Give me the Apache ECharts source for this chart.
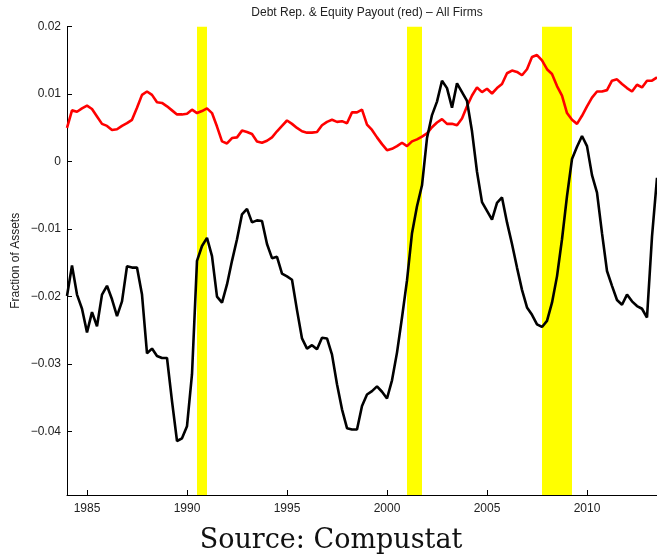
<!DOCTYPE html>
<html>
<head>
<meta charset="utf-8">
<script src="https://cdn.jsdelivr.net/npm/echarts@6/dist/echarts.min.js"></script>
<style>
  html, body { margin: 0; padding: 0; background: #fff; }
  #chart { width: 657px; height: 557px; }
</style>
</head>
<body>
<div id="chart"></div>
<script>
// quarterly data, 1984Q1 .. 2013Q3, fraction of assets
const firstQuarter = 1984.0
const quarters = n => Array.from({ length: n }, (_, i) => firstQuarter + i * 0.25)

// equity payout (red)
const redValues = [
  0.0050, 0.0076, 0.0074, 0.0079, 0.0083, 0.0078, 0.0067, 0.0056,
  0.0053, 0.0047, 0.0048, 0.0053, 0.0057, 0.0062, 0.0080, 0.0099,
  0.0104, 0.0099, 0.0088, 0.0087, 0.0082, 0.0076, 0.0070, 0.0070,
  0.0071, 0.0077, 0.0072, 0.0075, 0.0079, 0.0072, 0.0052, 0.0030,
  0.0027, 0.0035, 0.0036, 0.0046, 0.0044, 0.0041, 0.0030, 0.0028,
  0.0031, 0.0036, 0.0045, 0.0053, 0.0061, 0.0056, 0.0050, 0.0045,
  0.0043, 0.0043, 0.0044, 0.0054, 0.0059, 0.0062, 0.0059, 0.0060,
  0.0057, 0.0073, 0.0073, 0.0077, 0.0055, 0.0047, 0.0036, 0.0026,
  0.0017, 0.0019, 0.0023, 0.0028, 0.0023, 0.0030, 0.0033, 0.0037,
  0.0042, 0.0051, 0.0058, 0.0063, 0.0056, 0.0056, 0.0054, 0.0064,
  0.0082, 0.0098, 0.0110, 0.0103, 0.0108, 0.0101, 0.0109, 0.0115,
  0.0131, 0.0135, 0.0133, 0.0128, 0.0137, 0.0155, 0.0158, 0.0150,
  0.0137, 0.0130, 0.0112, 0.0098, 0.0072, 0.0062, 0.0056, 0.0068,
  0.0082, 0.0095, 0.0104, 0.0104, 0.0106, 0.0120, 0.0122, 0.0115,
  0.0109, 0.0104, 0.0114, 0.0110, 0.0120, 0.0120, 0.0125
]

// debt repurchase (black)
const blackValues = [
  -0.0199, -0.0154, -0.0197, -0.0218, -0.0253, -0.0223, -0.0244, -0.0197,
  -0.0184, -0.0204, -0.0229, -0.0207, -0.0155, -0.0157, -0.0157, -0.0197,
  -0.0284, -0.0277, -0.0288, -0.0291, -0.0291, -0.0355, -0.0414, -0.0410,
  -0.0392, -0.0315, -0.0147, -0.0125, -0.0113, -0.0140, -0.0200, -0.0209,
  -0.0182, -0.0147, -0.0115, -0.0078, -0.0070, -0.0090, -0.0087, -0.0088,
  -0.0122, -0.0143, -0.0141, -0.0166, -0.0170, -0.0175, -0.0220, -0.0262,
  -0.0277, -0.0272, -0.0278, -0.0261, -0.0262, -0.0286, -0.0330, -0.0367,
  -0.0395, -0.0397, -0.0397, -0.0362, -0.0345, -0.0340, -0.0333, -0.0341,
  -0.0351, -0.0324, -0.0283, -0.0231, -0.0176, -0.0106, -0.0066, -0.0035,
  0.0035, 0.0069, 0.0089, 0.0120, 0.0109, 0.0080, 0.0116, 0.0103,
  0.0090, 0.0045, -0.0015, -0.0060, -0.0073, -0.0086, -0.0061, -0.0053,
  -0.0090, -0.0122, -0.0157, -0.0190, -0.0216, -0.0227, -0.0241, -0.0245,
  -0.0236, -0.0209, -0.0170, -0.0115, -0.0051, 0.0004, 0.0022, 0.0038,
  0.0023, -0.0020, -0.0046, -0.0106, -0.0162, -0.0184, -0.0205, -0.0212,
  -0.0197, -0.0207, -0.0214, -0.0218, -0.0231, -0.0111, -0.0024
]

// NBER recessions (quarter bounds)
const recessionStart = [1990.5, 2001.0, 2007.75]
const recessionEnd = [1991.0, 2001.75, 2009.25]

const xTicks = [1985, 1990, 1995, 2000, 2005, 2010]
const yTicks = [-0.04, -0.03, -0.02, -0.01, 0, 0.01, 0.02]

const toPairs = ys => {
  const xs = quarters(ys.length)
  return ys.map((y, i) => [xs[i], y])
}

const axisFont = { color: '#222', fontSize: 12, fontFamily: "'Liberation Sans', Arial, sans-serif" }

const chart = echarts.init(document.getElementById('chart'), null, { renderer: 'canvas' })

chart.setOption({
  animation: false,
  backgroundColor: '#fff',
  title: {
    text: 'Debt Rep. & Equity Payout (red) \u2013 All Firms',
    left: 362, top: 2, textAlign: 'center',
    textStyle: { fontSize: 12, fontWeight: 'normal', color: '#222', fontFamily: "'Liberation Sans', Arial, sans-serif" }
  },
  grid: { left: 67, right: 0, top: 26.7, bottom: 62, containLabel: false, outerBoundsMode: 'none' },
  xAxis: {
    type: 'value', min: 1984.0, max: 2013.5,
    axisLine: { onZero: false, lineStyle: { color: '#000', width: 1 } },
    axisTick: { inside: true, length: 5, customValues: xTicks, lineStyle: { color: '#000' } },
    axisLabel: { ...axisFont, margin: 8, customValues: xTicks, formatter: v => String(v) },
    splitLine: { show: false }
  },
  yAxis: {
    type: 'value', min: -0.0494, max: 0.02,
    name: 'Fraction of Assets', nameLocation: 'middle', nameGap: 45, nameMoveOverlap: false,
    nameTextStyle: { ...axisFont },
    axisLine: { show: true, onZero: false, lineStyle: { color: '#000', width: 1 } },
    axisTick: { show: true, inside: true, length: 5, customValues: yTicks, lineStyle: { color: '#000' } },
    axisLabel: {
      ...axisFont, margin: 6, customValues: yTicks,
      formatter: v => {
        const r = Math.round(v * 100) / 100
        if (r === 0) return '0'
        return (r < 0 ? '\u2212' : '') + Math.abs(r).toFixed(2)
      }
    },
    splitLine: { show: false }
  },
  series: [
    {
      name: 'Payout', type: 'line', data: toPairs(redValues),
      showSymbol: false, silent: true,
      lineStyle: { color: '#ff0000', width: 2.6 },
      markArea: {
        silent: true,
        itemStyle: { color: '#ffff00', opacity: 1 },
        data: recessionStart.map((s, i) => [{ xAxis: s }, { xAxis: recessionEnd[i] }])
      }
    },
    {
      name: 'Debt Rep.', type: 'line', data: toPairs(blackValues),
      showSymbol: false, silent: true,
      lineStyle: { color: '#000', width: 2.6 }
    }
  ],
  graphic: [
    {
      type: 'text', x: 331, y: 541,
      style: {
        text: 'Source: Compustat',
        align: 'center', verticalAlign: 'middle',
        font: "27px 'DejaVu Serif', serif", fill: '#111'
      }
    }
  ]
})
</script>
</body>
</html>
